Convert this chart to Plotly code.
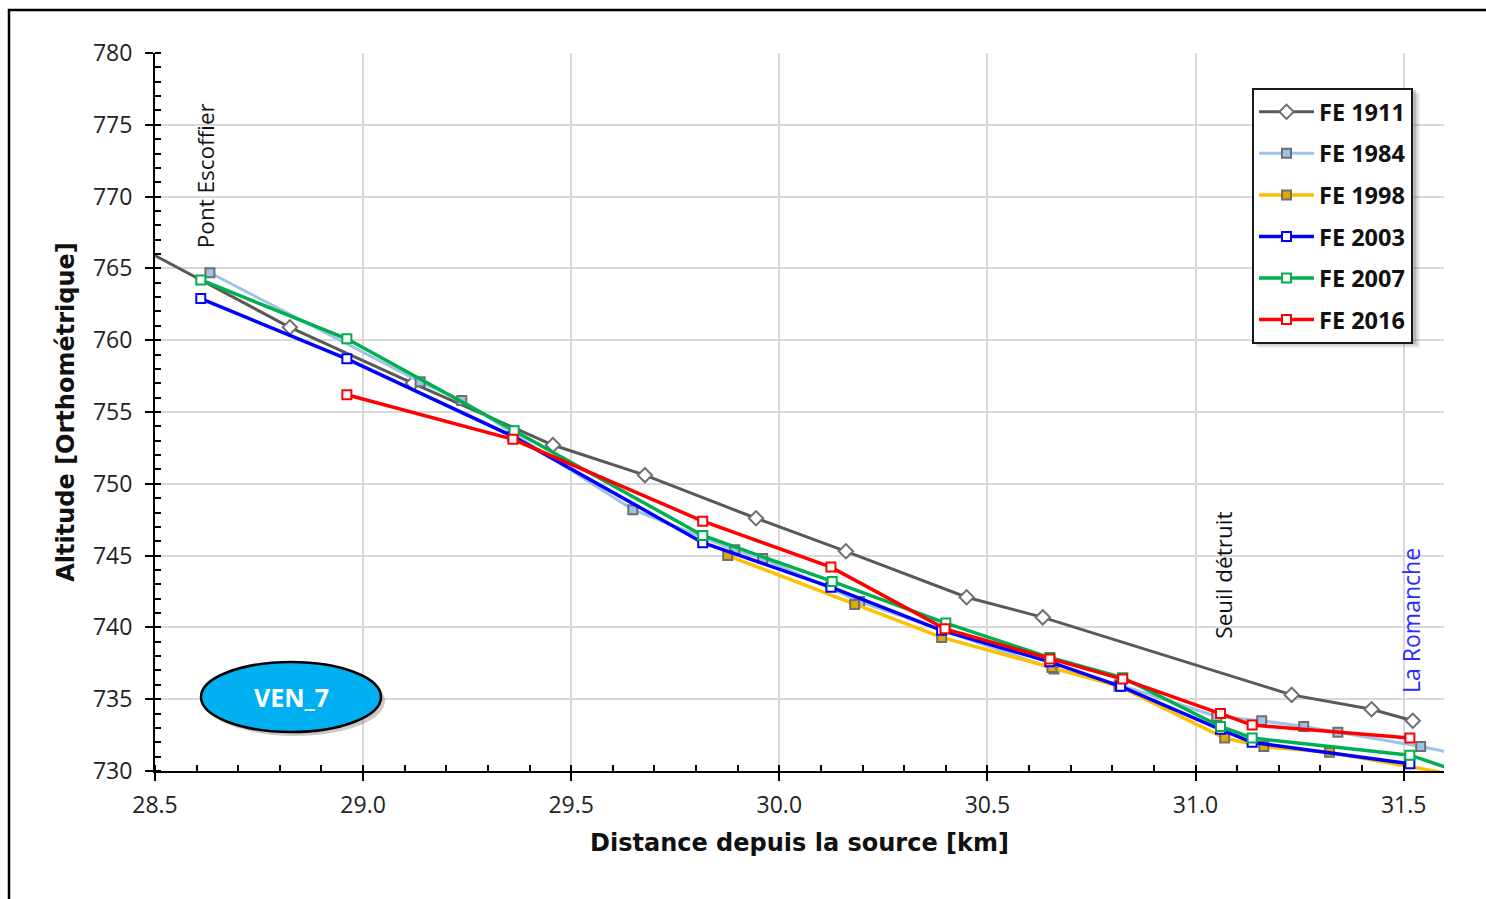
import plotly.graph_objects as go

# Longitudinal profile of the riverbed: distance from source (km) vs altitude (m)
series_names = ["FE 1911", "FE 1984", "FE 1998", "FE 2003", "FE 2007", "FE 2016"]

fe1911_km = [28.48, 28.824, 29.12, 29.456, 29.677, 29.944, 30.160, 30.450, 30.633, 31.231, 31.423, 31.522]
fe1911_alt = [766.2, 760.9, 757.0, 752.7, 750.6, 747.6, 745.3, 742.1, 740.7, 735.3, 734.3, 733.5]

fe1984_km = [28.632, 29.137, 29.237, 29.648, 29.893, 29.960, 30.193, 30.660, 30.818, 31.051, 31.159, 31.260, 31.342, 31.541, 31.66]
fe1984_alt = [764.7, 757.1, 755.8, 748.2, 745.4, 744.8, 741.8, 737.1, 736.0, 733.8, 733.5, 733.1, 732.7, 731.7, 731.0]

fe1998_km = [29.876, 30.181, 30.390, 30.655, 30.816, 31.070, 31.164, 31.322, 31.65]
fe1998_alt = [745.0, 741.6, 739.3, 737.2, 735.9, 732.3, 731.7, 731.3, 729.6]

fe2003_km = [28.61, 28.961, 29.36, 29.816, 30.124, 30.39, 30.65, 30.82, 31.06, 31.136, 31.515]
fe2003_alt = [762.9, 758.7, 753.3, 745.9, 742.8, 739.8, 737.6, 735.9, 732.9, 732.0, 730.5]

fe2007_km = [28.61, 28.961, 29.363, 29.816, 30.127, 30.400, 30.650, 30.825, 31.060, 31.136, 31.515, 31.65]
fe2007_alt = [764.2, 760.1, 753.7, 746.4, 743.2, 740.3, 737.9, 736.5, 733.1, 732.3, 731.1, 729.8]

fe2016_km = [28.961, 29.360, 29.816, 30.124, 30.398, 30.650, 30.825, 31.060, 31.136, 31.515]
fe2016_alt = [756.2, 753.1, 747.4, 744.2, 739.9, 737.8, 736.4, 734.0, 733.2, 732.3]

x_ticks = [28.5, 29.0, 29.5, 30.0, 30.5, 31.0, 31.5]
x_tick_labels = ["28.5", "29.0", "29.5", "30.0", "30.5", "31.0", "31.5"]
y_ticks = [730, 735, 740, 745, 750, 755, 760, 765, 770, 775, 780]

styles = [
    dict(line_color="#595959", lw=3, symbol="diamond", size=11, fill="white", mline="#6f6f6f"),
    dict(line_color="#9DC3E6", lw=3, symbol="square", size=9, fill="#9DC3E6", mline="#6f6f6f"),
    dict(line_color="#FFC000", lw=3.5, symbol="square", size=9, fill="#E0A800", mline="#6f6f6f"),
    dict(line_color="#0000FF", lw=3.5, symbol="square", size=9, fill="white", mline="#0000FF"),
    dict(line_color="#00B050", lw=3.5, symbol="square", size=9, fill="white", mline="#00B050"),
    dict(line_color="#FF0000", lw=3.5, symbol="square", size=9, fill="white", mline="#FF0000"),
]
data_x = [fe1911_km, fe1984_km, fe1998_km, fe2003_km, fe2007_km, fe2016_km]
data_y = [fe1911_alt, fe1984_alt, fe1998_alt, fe2003_alt, fe2007_alt, fe2016_alt]

fig = go.Figure()
for name, xs, ys, st in zip(series_names, data_x, data_y, styles):
    fig.add_trace(go.Scatter(
        x=xs, y=ys, name=name, mode="lines+markers", legendgroup=name,
        line=dict(color=st["line_color"], width=st["lw"]),
        marker=dict(symbol=st["symbol"], size=st["size"], color=st["fill"],
                    line=dict(color=st["mline"], width=2)),
    ))

L, R, T, B = 155, 42, 53, 128
W, H = 1486, 899
pw, ph = W - L - R, H - T - B


def px(xp):
    return (xp - L) / pw


def py(yp):
    return (H - B - yp) / ph


shapes = [
    # outer frame (top and left edges visible)
    dict(type="rect", xref="paper", yref="paper", x0=px(9), x1=px(1530), y0=py(940), y1=py(10),
         line=dict(color="black", width=2.5), layer="below"),
]
# legend drop shadow
for off, op in [(6, 0.10), (4, 0.16), (2, 0.22)]:
    shapes.append(dict(type="rect", xref="paper", yref="paper",
                       x0=px(1252 + off), x1=px(1414 + off), y0=py(342 + off), y1=py(88 + off),
                       fillcolor="#555555", opacity=op, line=dict(width=0), layer="above"))
# badge shadow + badge
shapes.append(dict(type="circle", xref="paper", yref="paper",
                   x0=px(205), x1=px(385), y0=py(736), y1=py(666),
                   fillcolor="#666666", opacity=0.35, line=dict(width=0)))
shapes.append(dict(type="circle", xref="paper", yref="paper",
                   x0=px(201), x1=px(381), y0=py(732), y1=py(662),
                   fillcolor="#00B0F0", line=dict(color="black", width=2.5)))

annotations = [
    dict(x=28.62, y=766.3, xref="x", yref="y", text="Pont Escoffier", textangle=-90,
         showarrow=False, yanchor="bottom", xanchor="center",
         font=dict(family="Open Sans", size=22.5, color="#111111")),
    dict(x=31.068, y=739.1, xref="x", yref="y", text="Seuil détruit", textangle=-90,
         showarrow=False, yanchor="bottom", xanchor="center",
         font=dict(family="Open Sans", size=22.5, color="#111111")),
    dict(x=31.519, y=735.3, xref="x", yref="y", text="La Romanche", textangle=-90,
         showarrow=False, yanchor="bottom", xanchor="center",
         font=dict(family="Open Sans", size=23, color="#2B2BFF")),
    dict(x=px(291), y=py(697), xref="paper", yref="paper", text="<b>VEN_7</b>",
         showarrow=False, xanchor="center", yanchor="middle",
         font=dict(family="Open Sans", size=25, color="white")),
]

fig.update_layout(
    width=W, height=H,
    margin=dict(l=L, r=R, t=T, b=B),
    paper_bgcolor="white", plot_bgcolor="white",
    shapes=shapes, annotations=annotations,
    legend=dict(x=px(1252), y=py(88), xanchor="left", yanchor="top",
                bgcolor="white", bordercolor="#1a1a1a", borderwidth=2,
                font=dict(family="Open Sans", size=23.5, color="#111111", weight="bold"),
                tracegroupgap=8, itemwidth=55),
    xaxis=dict(
        range=[28.5, 31.597], tickvals=x_ticks, ticktext=x_tick_labels,
        showgrid=True, gridcolor="#D9D9D9", gridwidth=1.5, zeroline=False,
        showline=True, linecolor="black", linewidth=2,
        ticks="outside", ticklen=8, tickwidth=2, tickcolor="black",
        ticklabelstandoff=4,
        minor=dict(dtick=0.1, tick0=28.5, ticks="inside", ticklen=6, tickwidth=1.5, tickcolor="black", showgrid=False),
        tickfont=dict(family="Open Sans", size=23, color="#222222"),
        title=dict(text="<b>Distance depuis la source [km]</b>", standoff=16,
                   font=dict(family="DejaVu Sans", size=24, color="#111111")),
    ),
    yaxis=dict(
        range=[730, 780], tickvals=y_ticks,
        showgrid=True, gridcolor="#D9D9D9", gridwidth=1.5, zeroline=False,
        showline=True, linecolor="black", linewidth=2,
        ticks="outside", ticklen=8, tickwidth=2, tickcolor="black",
        ticklabelstandoff=8,
        minor=dict(dtick=1, tick0=730, ticks="inside", ticklen=6, tickwidth=1.5, tickcolor="black", showgrid=False),
        tickfont=dict(family="Open Sans", size=23, color="#222222"),
        title=dict(text="<b>Altitude [Orthométrique]</b>", standoff=12,
                   font=dict(family="DejaVu Sans", size=24, color="#111111")),
    ),
)

fig.write_html("out.html")
